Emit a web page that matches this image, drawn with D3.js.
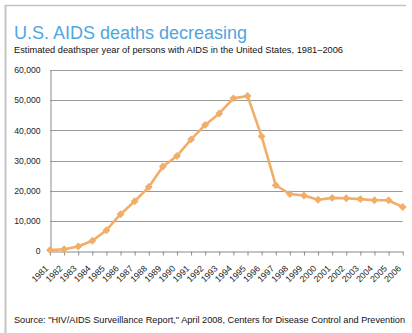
<!DOCTYPE html>
<html>
<head>
<meta charset="utf-8">
<script src="https://cdn.jsdelivr.net/npm/d3@7"></script>
<style>
  html, body { margin: 0; padding: 0; background: #fff; }
  svg { display: block; }
  text { font-family: "Liberation Sans", Arial, sans-serif; }
</style>
</head>
<body>
<svg id="chart" width="412" height="333"></svg>
<script>
// Estimated AIDS deaths per year, United States
const years = ["1981","1982","1983","1984","1985","1986","1987","1988","1989","1990",
  "1991","1992","1993","1994","1995","1996","1997","1998","1999","2000",
  "2001","2002","2003","2004","2005","2006"];
const deaths = [300, 600, 1500, 3400, 6900, 12200, 16500, 21200, 28000, 31500,
  37000, 41800, 45600, 50600, 51400, 38000, 21800, 18900, 18400, 17000,
  17600, 17500, 17200, 16800, 16800, 14600];
const yTicks = [0, 10000, 20000, 30000, 40000, 50000, 60000];

const titleText = "U.S. AIDS deaths decreasing";
const subtitleText = "Estimated deathsper year of persons with AIDS in the United States, 1981\u20132006";
const sourceText = "Source: \"HIV/AIDS Surveillance Report,\" April 2008, Centers for Disease Control and Prevention";

const svg = d3.select("#chart");
const lineColor = "#f0ae68";

// frame along top and left edges
svg.append("line").attr("x1", 5).attr("x2", 406).attr("y1", 5.5).attr("y2", 5.5)
  .attr("stroke", "#c4c4c4").attr("stroke-width", 1.5);
svg.append("line").attr("x1", 5.5).attr("x2", 5.5).attr("y1", 5).attr("y2", 333)
  .attr("stroke", "#c4c4c4").attr("stroke-width", 2);

svg.append("text").attr("x", 14).attr("y", 39)
  .attr("font-size", 18).attr("fill", "#4fa6de").text(titleText);
svg.append("text").attr("x", 14).attr("y", 52.5)
  .attr("font-size", 8.6).attr("fill", "#111").attr("textLength", 329)
  .attr("lengthAdjust", "spacingAndGlyphs").text(subtitleText);

const x = d3.scalePoint().domain(years).range([50, 402.7]);
const y = d3.scaleLinear().domain([0, 60000]).range([251, 70]);

// horizontal gridlines
svg.append("g").selectAll("line").data(yTicks.filter(d => d > 0)).join("line")
  .attr("x1", 50).attr("x2", 402.7)
  .attr("y1", d => Math.round(y(d)) + 0.5).attr("y2", d => Math.round(y(d)) + 0.5)
  .attr("stroke", "#9a9a9a").attr("stroke-width", 1);

// y axis
const yAxis = svg.append("g").attr("transform", "translate(50.5,0)")
  .call(d3.axisLeft(y).tickValues(yTicks).tickSize(0).tickPadding(10)
    .tickFormat(d3.format(",")));
yAxis.select(".domain").attr("stroke", "#8a8a8a");
yAxis.selectAll("text").attr("font-size", 8.6).attr("fill", "#222")
  .attr("font-family", "Liberation Sans, Arial, sans-serif");

// x axis, labels slanted at 45 degrees below each tick
const xAxis = svg.append("g").attr("transform", "translate(0,251.5)")
  .call(d3.axisBottom(x).tickSizeInner(4).tickSizeOuter(0));
xAxis.select(".domain").attr("stroke", "#8a8a8a");
xAxis.selectAll(".tick line").attr("stroke", "#8a8a8a");
xAxis.selectAll("text").attr("font-size", 8.8).attr("fill", "#222")
  .attr("font-family", "Liberation Sans, Arial, sans-serif")
  .attr("text-anchor", "end")
  .attr("x", 0).attr("y", 0).attr("dy", 0)
  .attr("transform", "translate(-1.5,17.5) rotate(-45)");

// data line with diamond markers
const line = d3.line().x((d, i) => x(years[i])).y(d => y(d));
svg.append("path").datum(deaths).attr("d", line)
  .attr("fill", "none").attr("stroke", lineColor).attr("stroke-width", 2.6)
  .attr("stroke-linejoin", "round");
svg.append("g").selectAll("path").data(deaths).join("path")
  .attr("d", d3.symbol().type(d3.symbolDiamond2).size(40))
  .attr("transform", (d, i) => `translate(${x(years[i])},${y(d)})`)
  .attr("fill", lineColor);

svg.append("text").attr("x", 14).attr("y", 323)
  .attr("font-size", 8.6).attr("fill", "#111").attr("textLength", 391)
  .attr("lengthAdjust", "spacingAndGlyphs").text(sourceText);
</script>
</body>
</html>
